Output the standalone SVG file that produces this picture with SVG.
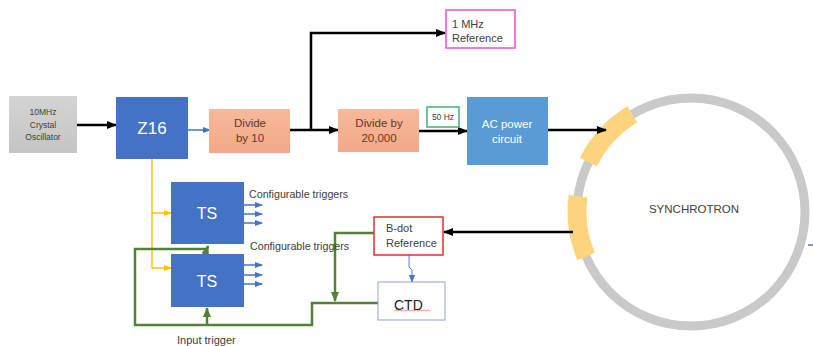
<svg xmlns="http://www.w3.org/2000/svg" width="813" height="346" viewBox="0 0 813 346">
<style>
text{font-family:"Liberation Sans",Arial,sans-serif;}
.w{fill:#ffffff;text-anchor:middle;}
.br{fill:#5c3a2c;text-anchor:middle;font-size:11.5px;}
.dk{fill:#404040;}
.blk{fill:none;stroke:#000;stroke-width:2.5;}
.grn{fill:none;stroke:#548235;stroke-width:2.5;}
.yel{fill:none;stroke:#ffc000;stroke-width:1.5;}
.blu{fill:none;stroke:#4472c4;stroke-width:1.5;}
</style>
<defs>
<linearGradient id="gg" x1="0" y1="0" x2="0" y2="1"><stop offset="0" stop-color="#d4d4d4"/><stop offset="1" stop-color="#c4c4c4"/></linearGradient>
<linearGradient id="og" x1="0" y1="0" x2="0" y2="1"><stop offset="0" stop-color="#f6b99a"/><stop offset="1" stop-color="#f2a888"/></linearGradient>
<marker id="ab" markerUnits="userSpaceOnUse" markerWidth="10" markerHeight="10" refX="9" refY="5" orient="auto"><path d="M0,1 L10,5 L0,9 Z" fill="#000"/></marker>
<marker id="ag" markerUnits="userSpaceOnUse" markerWidth="10" markerHeight="10" refX="9" refY="5" orient="auto"><path d="M0,1 L10,5 L0,9 Z" fill="#548235"/></marker>
<marker id="ay" markerUnits="userSpaceOnUse" markerWidth="8" markerHeight="8" refX="7" refY="4" orient="auto"><path d="M0,1 L8,4 L0,7 Z" fill="#ffc000"/></marker>
<marker id="au" markerUnits="userSpaceOnUse" markerWidth="8" markerHeight="8" refX="7" refY="4" orient="auto"><path d="M0,1 L8,4 L0,7 Z" fill="#4472c4"/></marker>
</defs>

<g id="synchrotron">
<circle cx="691" cy="212" r="114" fill="none" stroke="#c9c9c9" stroke-width="9"/>
<path d="M588.5,162 A114,114 0 0 1 632.3,114.3" fill="none" stroke="#fdd47e" stroke-width="19"/>
<path d="M586.1,256.5 A114,114 0 0 1 578.1,196.1" fill="none" stroke="#fdd47e" stroke-width="19"/>
<text x="694" y="213" class="dk" font-size="11.5" text-anchor="middle">SYNCHROTRON</text>
<line x1="808" y1="245" x2="813" y2="245" stroke="#2f4f8f" stroke-width="1.2"/>
</g>

<g id="connectors">
<line x1="77" y1="125" x2="116" y2="125" class="blk" marker-end="url(#ab)"/>
<line x1="188" y1="130" x2="210" y2="130" class="blu" marker-end="url(#au)"/>
<line x1="290" y1="130" x2="338" y2="130" class="blk" marker-end="url(#ab)"/>
<polyline points="311,130 311,33 445,33" class="blk" marker-end="url(#ab)"/>
<line x1="419" y1="131" x2="467" y2="131" class="blk" marker-end="url(#ab)"/>
<line x1="548" y1="130" x2="606" y2="130" class="blk" marker-end="url(#ab)"/>
<line x1="573" y1="232" x2="444" y2="232" class="blk" marker-end="url(#ab)"/>
<polyline points="152,159 152,268 171,268" class="yel" marker-end="url(#ay)"/>
<line x1="152" y1="213" x2="171" y2="213" class="yel" marker-end="url(#ay)"/>
<line x1="244" y1="205" x2="262" y2="205" class="blu" marker-end="url(#au)"/>
<line x1="244" y1="214" x2="262" y2="214" class="blu" marker-end="url(#au)"/>
<line x1="244" y1="223" x2="262" y2="223" class="blu" marker-end="url(#au)"/>
<line x1="244" y1="265" x2="262" y2="265" class="blu" marker-end="url(#au)"/>
<line x1="244" y1="275" x2="262" y2="275" class="blu" marker-end="url(#au)"/>
<line x1="244" y1="284" x2="262" y2="284" class="blu" marker-end="url(#au)"/>
<polyline points="409,255 409,267 412,270 412,282" fill="none" stroke="#4472c4" stroke-width="0.9" marker-end="url(#au)"/>
<polyline points="374,233 335,233 335,301" class="grn" marker-end="url(#ag)"/>
<polyline points="378,303 312,303 312,325 135,325 135,249 207,249 208,246" class="grn" marker-end="url(#ag)"/>
<line x1="207" y1="325" x2="207" y2="308" class="grn" marker-end="url(#ag)"/>
</g>

<g id="oscillator">
<rect x="9" y="96" width="68" height="57" fill="url(#gg)"/>
<text x="43" y="115" class="dk" font-size="8.5" text-anchor="middle">10MHz</text>
<text x="43" y="127.5" class="dk" font-size="8.5" text-anchor="middle">Crystal</text>
<text x="43" y="140" class="dk" font-size="8.5" text-anchor="middle">Oscillator</text>
</g>

<g id="z16">
<rect x="116" y="97" width="72" height="62" fill="#4472c4"/>
<text x="152" y="134" class="w" font-size="17">Z16</text>
</g>

<g id="div10">
<rect x="209" y="109" width="81" height="44" fill="url(#og)"/>
<text x="250" y="127" class="br">Divide</text>
<text x="250" y="142" class="br">by 10</text>
</g>

<g id="div20000">
<rect x="338" y="109" width="81" height="43" fill="url(#og)"/>
<text x="379" y="127" class="br">Divide by</text>
<text x="379" y="142" class="br">20,000</text>
</g>

<g id="hz50">
<rect x="427" y="107" width="32" height="20" fill="#fff" stroke="#3cb46e" stroke-width="1.5"/>
<text x="443" y="120" class="dk" font-size="8.5" text-anchor="middle">50 Hz</text>
</g>

<g id="acpower">
<rect x="467" y="97" width="81" height="68" fill="#5b9bd5"/>
<text x="507" y="127.5" class="w" font-size="11.5">AC power</text>
<text x="507" y="143" class="w" font-size="11.5">circuit</text>
</g>

<g id="mhz1">
<rect x="446" y="10" width="69" height="38" fill="#fff" stroke="#e64de6" stroke-width="1.5"/>
<text x="452" y="28" class="dk" font-size="11">1 MHz</text>
<text x="452" y="42" class="dk" font-size="11">Reference</text>
</g>

<g id="ts1">
<rect x="171" y="182" width="73" height="62" fill="#4472c4"/>
<text x="207" y="219" class="w" font-size="16">TS</text>
</g>
<g id="ts2">
<rect x="171" y="254" width="73" height="53" fill="#4472c4"/>
<text x="207" y="287" class="w" font-size="16">TS</text>
</g>

<g id="labels">
<text x="249" y="197.5" class="dk" font-size="10.7">Configurable triggers</text>
<text x="250" y="249.5" class="dk" font-size="10.7">Configurable triggers</text>
<text x="177" y="344" class="dk" font-size="11">Input trigger</text>
</g>

<g id="bdot">
<rect x="374" y="217" width="69" height="38" fill="#fff" stroke="#e03030" stroke-width="1.5"/>
<text x="386" y="232" class="dk" font-size="11">B-dot</text>
<text x="386" y="247" class="dk" font-size="11">Reference</text>
</g>

<g id="ctd">
<rect x="378" y="282" width="67" height="38" fill="#fff" stroke="#8ea2cf" stroke-width="1"/>
<text x="394" y="310" fill="#202020" font-size="14">CTD</text>
<path d="M394,311 l2,-1 2,1 2,-1 2,1 2,-1 2,1 2,-1 2,1 2,-1 2,1 2,-1 2,1 2,-1 2,1 2,-1 2,1 2,-1 2,1" fill="none" stroke="#e05050" stroke-width="0.6"/>
</g>
</svg>
